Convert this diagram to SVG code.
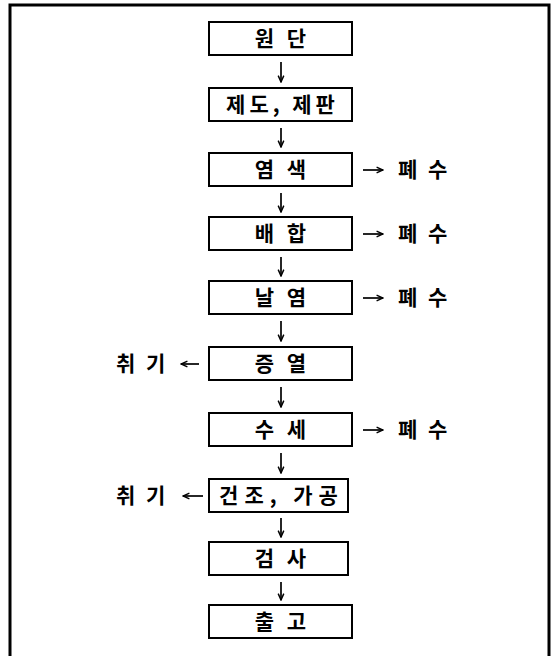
<svg xmlns="http://www.w3.org/2000/svg" width="554" height="656" viewBox="0 0 554 656">
<defs>
<marker id="ah" viewBox="0 0 10 10" refX="9" refY="5" markerWidth="8" markerHeight="8" orient="auto" markerUnits="userSpaceOnUse">
<path d="M1,1.5 L9,5 L1,8.5" fill="none" stroke="#000" stroke-width="1.8"/>
</marker>
</defs>
<style>
.box{fill:#fff;stroke:#000;stroke-width:2}
.t{font-family:"Noto Sans CJK KR","Noto Sans",sans-serif;font-weight:700;font-size:21px;fill:#000;text-anchor:middle}
.t2{letter-spacing:4px}
.s{font-family:"Noto Sans CJK KR","Noto Sans",sans-serif;font-weight:700;font-size:21px;fill:#000;letter-spacing:3px}
.c{stroke:#000;stroke-width:1.7;fill:none;marker-end:url(#ah)}
</style>
<rect width="554" height="656" fill="#fff"/>
<path d="M10,660 V5 H549 V660" fill="none" stroke="#000" stroke-width="3"/>
<g id="n1"><rect class="box" x="209" y="22" width="143" height="33"/><text class="t t2" x="282.5" y="46">원 단</text></g>
<g id="n2"><rect class="box" x="209" y="88" width="143" height="33"/><text class="t" x="282.5" y="112" letter-spacing="4">제도, 제판</text></g>
<g id="n3"><rect class="box" x="209" y="153" width="143" height="33"/><text class="t t2" x="282.5" y="177">염 색</text></g>
<g id="n4"><rect class="box" x="209" y="217" width="143" height="33"/><text class="t t2" x="282.5" y="241">배 합</text></g>
<g id="n5"><rect class="box" x="209" y="281" width="143" height="33"/><text class="t t2" x="282.5" y="305">날 염</text></g>
<g id="n6"><rect class="box" x="209" y="347" width="143" height="33"/><text class="t t2" x="282.5" y="371">증 열</text></g>
<g id="n7"><rect class="box" x="209" y="413" width="143" height="33"/><text class="t t2" x="282.5" y="437">수 세</text></g>
<g id="n8"><rect class="box" x="209" y="479" width="139" height="33"/><text class="t" x="281.5" y="503" letter-spacing="6">건조, 가공</text></g>
<g id="n9"><rect class="box" x="209" y="542" width="139" height="33"/><text class="t t2" x="282.5" y="566">검 사</text></g>
<g id="n10"><rect class="box" x="209" y="605" width="143" height="33"/><text class="t t2" x="282.5" y="629">출 고</text></g>
<g id="o1"><text class="s" x="398" y="177">폐 수</text></g>
<g id="o2"><text class="s" x="398" y="241">폐 수</text></g>
<g id="o3"><text class="s" x="398" y="305">폐 수</text></g>
<g id="o4"><text class="s" x="398" y="437">폐 수</text></g>
<g id="o5"><text class="s" x="116" y="371">취 기</text></g>
<g id="o6"><text class="s" x="116" y="503">취 기</text></g>
<g id="connectors">
<line class="c" x1="281" y1="62" x2="281" y2="82"/>
<line class="c" x1="281" y1="128" x2="281" y2="147"/>
<line class="c" x1="281" y1="193" x2="281" y2="212"/>
<line class="c" x1="281" y1="257" x2="281" y2="276"/>
<line class="c" x1="281" y1="321" x2="281" y2="341"/>
<line class="c" x1="281" y1="387" x2="281" y2="407"/>
<line class="c" x1="281" y1="453" x2="281" y2="473"/>
<line class="c" x1="281" y1="518" x2="281" y2="537"/>
<line class="c" x1="281" y1="582" x2="281" y2="600"/>
<line class="c" x1="363" y1="170" x2="383" y2="170"/>
<line class="c" x1="363" y1="234" x2="383" y2="234"/>
<line class="c" x1="363" y1="298" x2="383" y2="298"/>
<line class="c" x1="363" y1="430" x2="383" y2="430"/>
<line class="c" x1="199" y1="364" x2="181" y2="364"/>
<line class="c" x1="203" y1="496" x2="183" y2="496"/>
</g>
</svg>
